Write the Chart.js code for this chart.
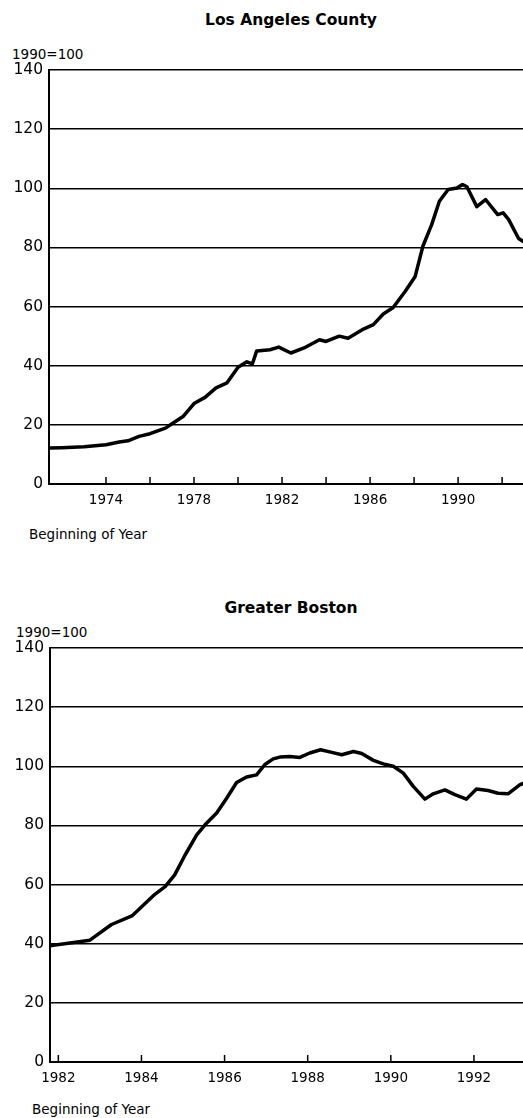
<!DOCTYPE html>
<html>
<head>
<meta charset="utf-8">
<script src="https://cdn.jsdelivr.net/npm/chart.js@4"></script>
<style>
  html, body { margin: 0; padding: 0; background: #fff; overflow: hidden; }
  body { width: 523px; height: 1118px; position: relative; font-family: "DejaVu Sans", sans-serif; color: #000; }
  .box { position: absolute; left: 0; width: 523px; height: 520px; }
  .txt { position: absolute; white-space: nowrap; line-height: 1; }
  .title { font-weight: bold; font-size: 15.5px; transform: translateX(-50%); }
  .unit, .foot { font-size: 13.5px; }
</style>
</head>
<body>
<div class="txt title" style="left:291px; top:13px;">Los Angeles County</div>
<div class="txt unit" style="left:12px; top:48px;">1990=100</div>
<div class="box" style="top:0;"><canvas id="la" width="523" height="520"></canvas></div>
<div class="txt foot" style="left:29px; top:528px;">Beginning of Year</div>

<div class="txt title" style="left:291px; top:601px;">Greater Boston</div>
<div class="txt unit" style="left:16px; top:626px;">1990=100</div>
<div class="box" style="top:580px;"><canvas id="bos" width="523" height="520"></canvas></div>
<div class="txt foot" style="left:32px; top:1103px;">Beginning of Year</div>

<script>
// Los Angeles County, index 1990=100
const laYears = [1971.4, 1972.0, 1973.0, 1974.0, 1974.6, 1975.0, 1975.5, 1976.0, 1976.7, 1977.0,
  1977.5, 1978.0, 1978.5, 1979.0, 1979.5, 1980.0, 1980.4, 1980.65, 1980.85, 1981.45,
  1981.85, 1982.4, 1983.0, 1983.7, 1984.0, 1984.6, 1985.0, 1985.7, 1986.15, 1986.6,
  1987.05, 1987.6, 1988.05, 1988.4, 1988.8, 1989.15, 1989.55, 1989.95, 1990.2, 1990.4,
  1990.85, 1991.25, 1991.8, 1992.05, 1992.3, 1992.75, 1993.0];
const laValues = [12.2, 12.3, 12.6, 13.3, 14.2, 14.6, 16.1, 17.0, 18.9, 20.4,
  22.8, 27.2, 29.3, 32.5, 34.2, 39.5, 41.3, 40.6, 45.0, 45.4,
  46.3, 44.3, 46.0, 48.8, 48.2, 50.0, 49.3, 52.4, 53.9, 57.5,
  59.7, 65.2, 70.2, 80.4, 87.7, 95.6, 99.6, 100.1, 101.3, 100.5,
  93.8, 96.2, 91.1, 91.7, 89.4, 83.0, 81.8];
const laTicks = [1974, 1976, 1978, 1980, 1982, 1984, 1986, 1988, 1990, 1992];
const laLabels = [1974, 1978, 1982, 1986, 1990];

// Greater Boston, index 1990=100
const bosYears = [1981.76, 1982.76, 1983.28, 1983.77, 1984.33, 1984.57, 1984.8, 1985.05, 1985.33, 1985.53,
  1985.81, 1986.05, 1986.29, 1986.53, 1986.77, 1986.97, 1987.17, 1987.33, 1987.57, 1987.81,
  1988.05, 1988.31, 1988.58, 1988.82, 1989.1, 1989.3, 1989.58, 1989.82, 1990.06, 1990.3,
  1990.54, 1990.82, 1991.02, 1991.3, 1991.54, 1991.82, 1992.06, 1992.34, 1992.58, 1992.82,
  1993.1, 1993.2];
const bosValues = [39.2, 41.2, 46.5, 49.4, 56.8, 59.3, 63.3, 70.0, 76.8, 80.2,
  84.2, 89.2, 94.5, 96.4, 97.1, 100.6, 102.5, 103.1, 103.3, 103.0,
  104.5, 105.6, 104.7, 103.9, 105.0, 104.3, 102.0, 100.8, 100.0, 97.7,
  93.2, 88.9, 90.7, 92.0, 90.4, 88.9, 92.3, 91.8, 90.9, 90.7,
  93.7, 94.3];
const bosTicks = [1982, 1984, 1986, 1988, 1990, 1992];
const bosLabels = [1982, 1984, 1986, 1988, 1990, 1992];

const yTicks = [0, 20, 40, 60, 80, 100, 120, 140];

Chart.defaults.font.family = '"DejaVu Sans", sans-serif';
Chart.defaults.color = '#000';

// short tick marks pointing up into the plot
const innerTicks = {
  id: 'innerTicks',
  afterDatasetsDraw(chart) {
    const { ctx, chartArea, scales: { x } } = chart;
    ctx.save();
    ctx.strokeStyle = '#000';
    ctx.lineWidth = 1.5;
    x.ticks.forEach(t => {
      const px = x.getPixelForValue(t.value);
      ctx.beginPath();
      ctx.moveTo(px, chartArea.bottom);
      ctx.lineTo(px, chartArea.bottom - 7);
      ctx.stroke();
    });
    ctx.restore();
  }
};

function makeChart(id, years, values, cfg) {
  const ctx = document.getElementById(id);
  return new Chart(ctx, {
    type: 'line',
    data: {
      datasets: [{
        data: years.map((yr, i) => ({ x: yr, y: values[i] })),
        borderColor: '#000',
        borderWidth: 3.5,
        pointRadius: 0,
        tension: 0,
        borderJoinStyle: 'round',
        borderCapStyle: 'round'
      }]
    },
    options: {
      responsive: false,
      animation: false,
      events: [],
      layout: { padding: { top: cfg.top, left: 0, right: 0, bottom: 0 } },
      plugins: { legend: { display: false }, tooltip: { enabled: false } },
      scales: {
        x: {
          type: 'linear',
          min: cfg.xMin,
          max: cfg.xMax,
          afterBuildTicks: s => { s.ticks = cfg.ticks.map(v => ({ value: v })); },
          afterFit: s => { s.height = cfg.xHeight; },
          ticks: {
            autoSkip: false,
            maxRotation: 0,
            padding: 8,
            font: { size: 13.5 },
            callback: v => cfg.labels.includes(v) ? String(v) : ''
          },
          grid: { drawOnChartArea: false, drawTicks: false },
          border: { color: '#000', width: 2 }
        },
        y: {
          min: 0,
          max: 140,
          afterBuildTicks: s => { s.ticks = yTicks.map(v => ({ value: v })); },
          afterFit: s => { s.width = cfg.yWidth; },
          ticks: { padding: 6, font: { size: 15.5 } },
          grid: { color: '#000', lineWidth: 1.5, drawTicks: false },
          border: { color: '#000', width: 2 }
        }
      }
    },
    plugins: [innerTicks]
  });
}

makeChart('la', laYears, laValues, {
  top: 70, xHeight: 36, yWidth: 49,
  xMin: 1971.41, xMax: 1992.95,
  ticks: laTicks, labels: laLabels
});

makeChart('bos', bosYears, bosValues, {
  top: 68, xHeight: 38, yWidth: 50,
  xMin: 1981.8, xMax: 1993.18,
  ticks: bosTicks, labels: bosLabels
});
</script>
</body>
</html>
